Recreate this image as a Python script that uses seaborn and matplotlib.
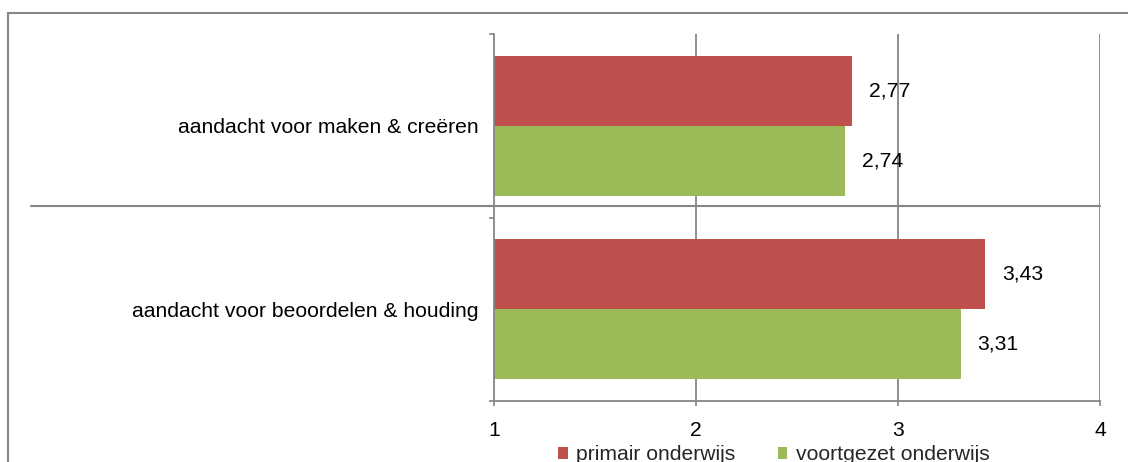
import matplotlib
matplotlib.use("Agg")
import matplotlib.pyplot as plt
import seaborn as sns
import pandas as pd
from matplotlib.lines import Line2D
from matplotlib.patches import Rectangle, Patch

categories = ["aandacht voor maken & creëren", "aandacht voor beoordelen & houding"]
series = ["primair onderwijs", "voortgezet onderwijs"]
primair = [2.77, 3.43]
voortgezet = [2.74, 3.31]
colors = ["#C0504D", "#9BBB59"]
xticks = [1, 2, 3, 4]

df = pd.DataFrame({
    "cat": categories * 2,
    "series": [series[0]] * 2 + [series[1]] * 2,
    "value": primair + voortgezet,
})

sns.set_theme(style="white")
plt.rcParams["font.family"] = ["Liberation Sans", "DejaVu Sans"]
gray = "#868686"
fs = 15.2

fig = plt.figure(figsize=(11.28, 4.62), dpi=100)
ax = fig.add_axes([494/1128, 1-401/462, (1100-494)/1128, (401-34)/462])
sns.barplot(data=df, x="value", y="cat", hue="series", orient="h",
            palette=colors, width=0.765, ax=ax, legend=False, saturation=1,
            edgecolor="none", linewidth=0)
ax.set_xlim(1, 4)
ax.set_ylim(1.5, -0.5)
ax.set_xticks(xticks)
ax.set_xticklabels([str(t) for t in xticks], fontsize=fs, color="black")
ax.set_xlabel("")
ax.set_ylabel("")
ax.tick_params(axis="x", length=3.6, width=1.2, color=gray, direction="out", pad=10.5, bottom=True)
ax.tick_params(axis="y", which="major", length=0, pad=11, labelsize=fs, labelcolor="black")
ax.set_yticks([-0.5, 0.5, 1.5], minor=True)
ax.tick_params(axis="y", which="minor", length=3.6, width=1.2, color=gray, direction="out", left=True)
for x in xticks[1:]:
    ax.axvline(x, color=gray, lw=1.3, zorder=0)
for s in ["top", "right"]:
    ax.spines[s].set_visible(False)
for s in ["left", "bottom"]:
    ax.spines[s].set_color(gray)
    ax.spines[s].set_linewidth(1.3)

for cont in ax.containers:
    for bar in cont:
        w = bar.get_width()
        ax.annotate(f"{w:.2f}".replace(".", ","), xy=(w, bar.get_y() + bar.get_height()/2),
                    xytext=(17, 0), textcoords="offset pixels", ha="left", va="center",
                    fontsize=fs, color="black")

# figure border and separator line
fig.add_artist(Rectangle((8/1128, -0.1), 1.2, 1-13/462+0.1, transform=fig.transFigure,
                         fill=False, edgecolor=gray, lw=1.5))
fig.add_artist(Line2D([31/1128, 1100/1128], [1-206/462, 1-206/462], transform=fig.transFigure,
                      color=gray, lw=1.5))

handles = [Patch(facecolor=c, edgecolor="none") for c in colors]
fig.legend(handles, series, loc="center", bbox_to_anchor=(774/1128, 1-455/462), ncol=2,
           frameon=False, fontsize=fs, handlelength=0.45, handleheight=0.45,
           handletextpad=0.4, columnspacing=2.0, borderpad=0)

fig.savefig("out.png", dpi=100)
